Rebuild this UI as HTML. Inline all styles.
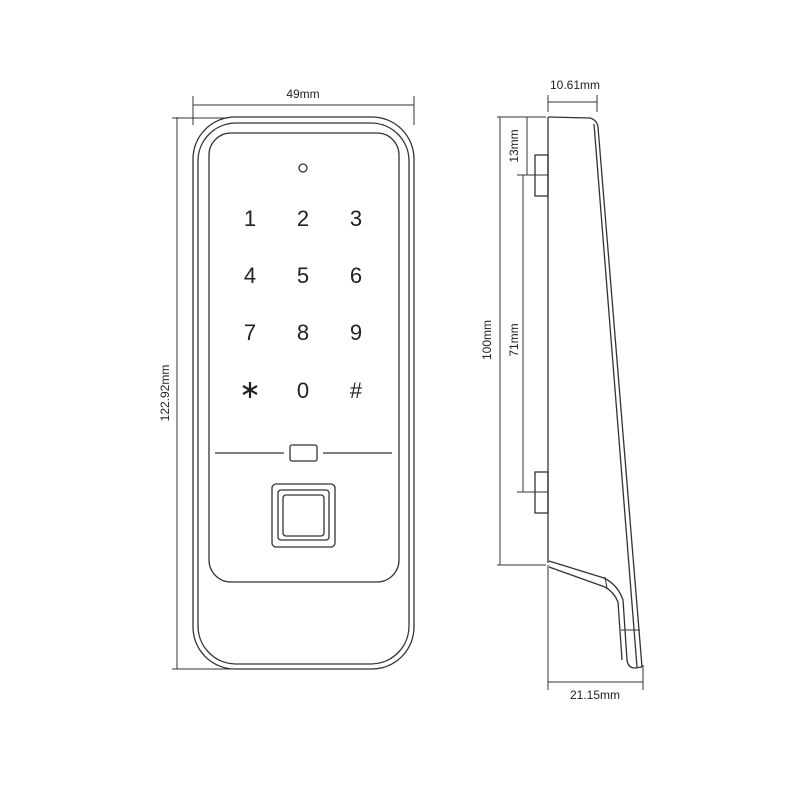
<!DOCTYPE html><html><head><style>body{margin:0;background:#fff}svg text{font-family:"Liberation Sans",sans-serif;fill:#222}</style></head><body>
<svg width="800" height="800" viewBox="0 0 800 800" xmlns="http://www.w3.org/2000/svg">
<g fill="none" stroke="#333" stroke-width="1.3">
<rect x="193" y="117" width="221" height="552" rx="42"/>
<rect x="198" y="123" width="211" height="541" rx="38"/>
<rect x="209" y="133" width="190" height="449" rx="22"/>
<circle cx="303" cy="168" r="4"/>
<line x1="215" y1="453" x2="284" y2="453"/>
<line x1="323" y1="453" x2="392" y2="453"/>
<rect x="290" y="445" width="27" height="16" rx="2"/>
<rect x="272" y="484" width="63" height="63" rx="4"/>
<rect x="278" y="490" width="51" height="50" rx="3"/>
<rect x="283" y="495" width="41" height="41" rx="3"/>
<line x1="193" y1="105" x2="414" y2="105" stroke-width="1"/>
<line x1="193" y1="96" x2="193" y2="125" stroke-width="1"/>
<line x1="414" y1="96" x2="414" y2="125" stroke-width="1"/>
<line x1="177" y1="117" x2="177" y2="669" stroke-width="1"/>
<line x1="172" y1="118" x2="228" y2="118" stroke-width="1"/>
<line x1="172" y1="669" x2="241" y2="669" stroke-width="1"/>
<path d="M548 117 L590 118 Q597 120 598 127 L642 667"/>
<path d="M594 124 L637 667"/>
<line x1="548" y1="117" x2="548" y2="563"/>
<rect x="535" y="155" width="13" height="41"/>
<rect x="535" y="472" width="13" height="41"/>
<path d="M549 561 L604 578 Q618 585 623 600 L627 660 Q628 668 635 668 L642 667"/>
<path d="M549 567 L605 587 Q614 592 618 602 L622 660"/>
<line x1="605" y1="577" x2="607" y2="588" stroke-width="1"/>
<line x1="621" y1="630" x2="640" y2="630" stroke-width="1"/>
<line x1="548" y1="102" x2="597" y2="102" stroke-width="1"/>
<line x1="548" y1="95" x2="548" y2="112" stroke-width="1"/>
<line x1="597" y1="95" x2="597" y2="112" stroke-width="1"/>
<line x1="500" y1="117" x2="500" y2="565" stroke-width="1"/>
<line x1="497" y1="117" x2="546" y2="117" stroke-width="1"/>
<line x1="497" y1="565" x2="546" y2="565" stroke-width="1"/>
<line x1="527" y1="117" x2="527" y2="175" stroke-width="1"/>
<line x1="517" y1="175" x2="548" y2="175" stroke-width="1"/>
<line x1="523" y1="175" x2="523" y2="492" stroke-width="1"/>
<line x1="517" y1="492" x2="548" y2="492" stroke-width="1"/>
<line x1="548" y1="565" x2="548" y2="690" stroke-width="1"/>
<line x1="643" y1="665" x2="643" y2="690" stroke-width="1"/>
<line x1="548" y1="682" x2="643" y2="682" stroke-width="1"/>
</g>
<g stroke="#222" stroke-width="2.2">
<line x1="250" y1="382" x2="250" y2="398"/>
<line x1="243" y1="386" x2="257" y2="394"/>
<line x1="243" y1="394" x2="257" y2="386"/>
</g>
<g font-size="12" text-anchor="middle">
<text x="303" y="98">49mm</text>
<text x="575" y="89">10.61mm</text>
<text x="595" y="699">21.15mm</text>
<text transform="translate(169,393) rotate(-90)">122.92mm</text>
<text transform="translate(491,340) rotate(-90)">100mm</text>
<text transform="translate(518,340) rotate(-90)">71mm</text>
<text transform="translate(518,146) rotate(-90)">13mm</text>
</g>
<g font-size="22" text-anchor="middle">
<text x="250" y="226">1</text><text x="303" y="226">2</text><text x="356" y="226">3</text>
<text x="250" y="283">4</text><text x="303" y="283">5</text><text x="356" y="283">6</text>
<text x="250" y="340">7</text><text x="303" y="340">8</text><text x="356" y="340">9</text>
<text x="303" y="398">0</text><text x="356" y="398">#</text>
</g>
</svg></body></html>
